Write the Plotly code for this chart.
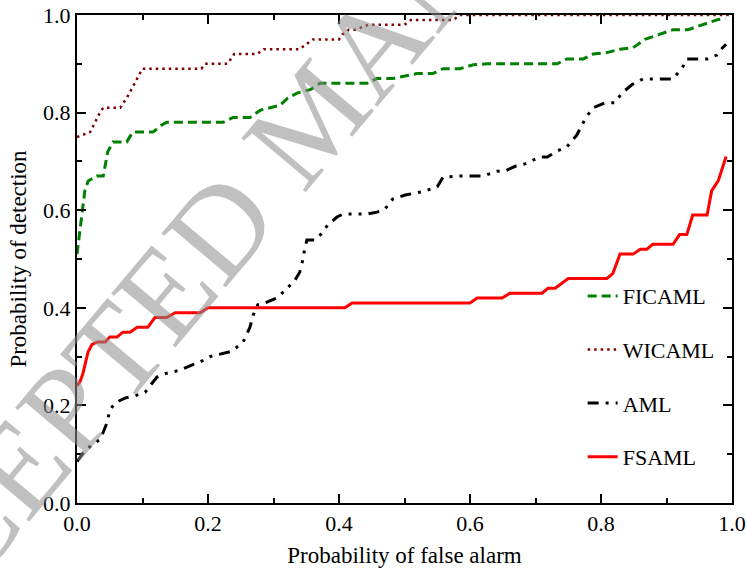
import plotly.graph_objects as go

# probability of false alarm / probability of detection
fica_x = [0, 0.005, 0.008, 0.012, 0.017, 0.03, 0.04, 0.047, 0.055, 0.076, 0.085, 0.116, 0.13, 0.137,
          0.223, 0.238, 0.264, 0.28, 0.295, 0.31, 0.322, 0.336, 0.356, 0.371, 0.443, 0.458, 0.482,
          0.498, 0.519, 0.543, 0.559, 0.585, 0.605, 0.626, 0.733, 0.748, 0.773, 0.788, 0.809, 0.829,
          0.849, 0.867, 0.89, 0.91, 0.933, 0.954, 0.977, 0.99]
fica_y = [0.51, 0.56, 0.60, 0.64, 0.66, 0.67, 0.67, 0.72, 0.74, 0.74, 0.76, 0.76, 0.775, 0.78,
          0.78, 0.79, 0.79, 0.805, 0.81, 0.815, 0.83, 0.84, 0.847, 0.86, 0.86, 0.87, 0.87,
          0.874, 0.88, 0.88, 0.89, 0.89, 0.898, 0.90, 0.90, 0.91, 0.91, 0.92, 0.923, 0.93,
          0.933, 0.95, 0.96, 0.97, 0.97, 0.98, 0.99, 0.993]

wica_x = [0, 0.02, 0.035, 0.04, 0.066, 0.076, 0.084, 0.092, 0.10, 0.19, 0.195, 0.21, 0.23, 0.24,
          0.265, 0.275, 0.285, 0.34, 0.35, 0.36, 0.40, 0.405, 0.415, 0.425, 0.445, 0.50, 0.51,
          0.575, 0.585, 1.0]
wica_y = [0.75, 0.76, 0.80, 0.81, 0.81, 0.83, 0.85, 0.87, 0.89, 0.89, 0.90, 0.90, 0.90, 0.92,
          0.92, 0.92, 0.93, 0.93, 0.94, 0.95, 0.95, 0.96, 0.97, 0.97, 0.98, 0.98, 0.99,
          0.99, 1.0, 1.0]

aml_x = [0, 0.008, 0.023, 0.035, 0.04, 0.046, 0.05, 0.058, 0.073, 0.089, 0.104, 0.122, 0.137,
         0.157, 0.176, 0.188, 0.203, 0.234, 0.253, 0.264, 0.269, 0.276, 0.287, 0.305, 0.318,
         0.333, 0.34, 0.344, 0.347, 0.351, 0.363, 0.374, 0.383, 0.397, 0.406, 0.443, 0.458,
         0.47, 0.482, 0.501, 0.516, 0.531, 0.55, 0.559, 0.585, 0.62, 0.641, 0.653, 0.669,
         0.684, 0.707, 0.718, 0.733, 0.748, 0.763, 0.771, 0.777, 0.788, 0.806, 0.821, 0.832,
         0.847, 0.864, 0.91, 0.925, 0.931, 0.962, 0.977, 0.985, 0.991]
aml_y = [0.085, 0.10, 0.12, 0.13, 0.145, 0.165, 0.19, 0.205, 0.215, 0.22, 0.227, 0.258, 0.266,
         0.272, 0.283, 0.289, 0.30, 0.31, 0.328, 0.36, 0.385, 0.406, 0.41, 0.42, 0.436,
         0.457, 0.473, 0.494, 0.516, 0.539, 0.539, 0.553, 0.57, 0.586, 0.592, 0.592, 0.596,
         0.602, 0.623, 0.631, 0.635, 0.639, 0.648, 0.668, 0.67, 0.67, 0.68, 0.68, 0.69,
         0.695, 0.709, 0.709, 0.721, 0.73, 0.754, 0.775, 0.79, 0.81, 0.82, 0.82, 0.84,
         0.857, 0.869, 0.869, 0.894, 0.91, 0.91, 0.918, 0.932, 0.94]

fsa_x = [0, 0.005, 0.009, 0.017, 0.023, 0.031, 0.043, 0.05, 0.061, 0.07, 0.081, 0.092, 0.108,
         0.119, 0.137, 0.15, 0.188, 0.2, 0.409, 0.42, 0.60, 0.611, 0.649, 0.661, 0.71, 0.719,
         0.73, 0.75, 0.809, 0.818, 0.829, 0.849, 0.86, 0.87, 0.879, 0.91, 0.92, 0.931, 0.94,
         0.962, 0.969, 0.979, 0.991]
fsa_y = [0.24, 0.25, 0.265, 0.31, 0.325, 0.33, 0.33, 0.34, 0.34, 0.35, 0.35, 0.36, 0.36,
         0.38, 0.38, 0.39, 0.39, 0.40, 0.40, 0.41, 0.41, 0.42, 0.42, 0.43, 0.43, 0.44,
         0.44, 0.46, 0.46, 0.47, 0.51, 0.51, 0.52, 0.52, 0.53, 0.53, 0.55, 0.55, 0.59,
         0.59, 0.64, 0.66, 0.71]

FONT = "'Liberation Serif', 'Times New Roman', serif"

fig = go.Figure()

fig.add_trace(go.Scatter(x=fica_x, y=fica_y, mode='lines', name='FICAML', legendgroup='a',
                         line=dict(color='#008000', width=3, dash='9px,5px')))
fig.add_trace(go.Scatter(x=wica_x, y=wica_y, mode='lines', name='WICAML', legendgroup='b',
                         line=dict(color='#800000', width=2.5, dash='2.5px,4px')))
fig.add_trace(go.Scatter(x=aml_x, y=aml_y, mode='lines', name='AML', legendgroup='c',
                         line=dict(color='black', width=3, dash='11px,7px,3px,7px,3px,7px')))
fig.add_trace(go.Scatter(x=fsa_x, y=fsa_y, mode='lines', name='FSAML', legendgroup='d',
                         line=dict(color='#ff0000', width=3)))

axis_style = dict(
    range=[0, 1],
    dtick=0.2,
    tickformat='.1f',
    ticks='inside',
    ticklen=9,
    tickwidth=2,
    tickcolor='black',
    showline=True,
    linewidth=2,
    linecolor='black',
    mirror='allticks',
    showgrid=False,
    zeroline=False,
    automargin=False,
    minor=dict(ticks='inside', ticklen=5, tickwidth=2, dtick=0.1, tickcolor='black'),
    tickfont=dict(family=FONT, size=22, color='black'),
)

fig.update_layout(
    width=747,
    height=572,
    margin=dict(l=77, r=15, t=15, b=69),
    paper_bgcolor='white',
    plot_bgcolor='white',
    font=dict(family=FONT, size=22, color='black'),
    xaxis=dict(axis_style, title=dict(text='Probability of false alarm', standoff=11,
                                      font=dict(family=FONT, size=23))),
    yaxis=dict(axis_style, title=dict(text='Probability of detection', standoff=10,
                                      font=dict(family=FONT, size=23))),
    showlegend=True,
    legend=dict(
        x=0.772, y=0.467, xanchor='left', yanchor='top',
        bgcolor='rgba(0,0,0,0)',
        font=dict(family=FONT, size=22),
        tracegroupgap=22,
        traceorder='grouped',
    ),
    annotations=[dict(
        text='ACCEPTED MANUSCRIPT',
        xref='paper', yref='paper', x=0.36, y=0.79,
        xanchor='center', yanchor='middle',
        textangle=-50,
        showarrow=False,
        font=dict(family=FONT, size=128, color='rgba(140,140,140,0.55)'),
    )],
)

# drop the default 8px page margin so the figure sits at the window's corner
fig.write_html("out.html", config={'displayModeBar': False},
               post_script="document.body.style.margin='0';")
